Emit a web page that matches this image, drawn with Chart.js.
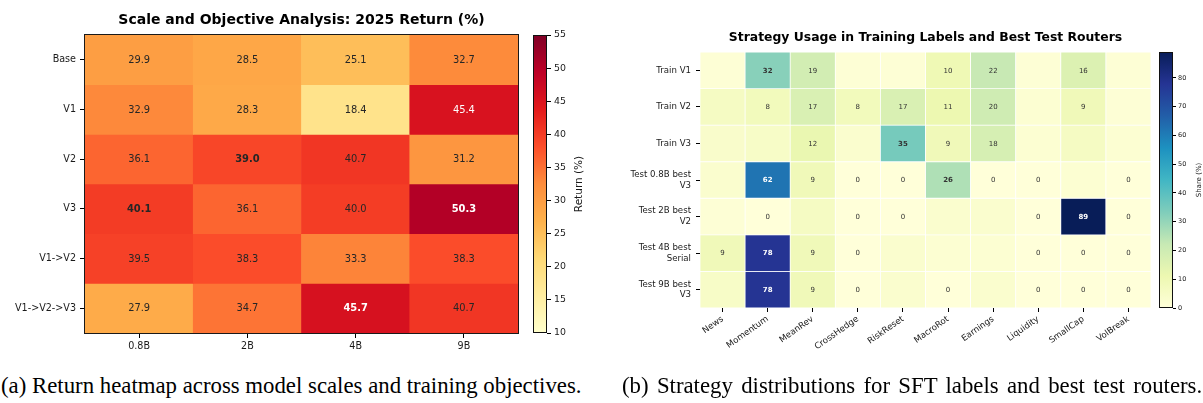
<!DOCTYPE html>
<html>
<head>
<meta charset="utf-8">
<script src="https://cdn.jsdelivr.net/npm/chart.js@4.4.1/dist/chart.umd.min.js"></script>
<style>
html,body{margin:0;padding:0;background:#fff;}
body{width:1203px;height:403px;position:relative;overflow:hidden;}
canvas{position:absolute;}
.cap{position:absolute;font-family:"Liberation Serif","Times New Roman",serif;font-size:22.8px;color:#000;white-space:nowrap;line-height:1;}
</style>
</head>
<body>
<canvas id="h1" width="600" height="360" style="left:0px;top:0px"></canvas>
<canvas id="c1" width="70" height="360" style="left:533px;top:0px"></canvas>
<canvas id="h2" width="600" height="360" style="left:600px;top:0px"></canvas>
<canvas id="c2" width="44" height="360" style="left:1159px;top:0px"></canvas>
<div class="cap" style="left:1px;top:375px">(a) Return heatmap across model scales and training objectives.</div>
<div class="cap" style="left:622px;top:375px;word-spacing:2.6px">(b) Strategy distributions for SFT labels and best test routers.</div>
<script>
// ---------- Data: left panel (2025 return, %) ----------
const scaleLabels = ['0.8B', '2B', '4B', '9B'];
const objectiveLabels = ['Base', 'V1', 'V2', 'V3', 'V1->V2', 'V1->V2->V3'];
const returnBase   = [29.9, 28.5, 25.1, 32.7];
const returnV1     = [32.9, 28.3, 18.4, 45.4];
const returnV2     = [36.1, 39.0, 40.7, 31.2];
const returnV3     = [40.1, 36.1, 40.0, 50.3];
const returnV1V2   = [39.5, 38.3, 33.3, 38.3];
const returnV1V2V3 = [27.9, 34.7, 45.7, 40.7];
const returnMin = 10, returnMax = 55, returnStep = 5;

// ---------- Data: right panel (strategy share, %) ----------
const strategyLabels = ['News', 'Momentum', 'MeanRev', 'CrossHedge', 'RiskReset', 'MacroRot', 'Earnings', 'Liquidity', 'SmallCap', 'VolBreak'];
const routerLabels = ['Train V1', 'Train V2', 'Train V3', 'Test 0.8B best\nV3', 'Test 2B best\nV2', 'Test 4B best\nSerial', 'Test 9B best\nV3'];
const shareTrainV1  = [1, 32, 19, 1, 1, 10, 22, 1, 16, 1];
const shareTrainV2  = [6, 8, 17, 8, 17, 11, 20, 2, 9, 1];
const shareTrainV3  = [4, 5, 12, 3, 35, 9, 18, 2, 6, 2];
const shareTest08B  = [3, 62, 9, 0, 0, 26, 0, 0, 2, 0];
const shareTest2B   = [1, 0, 6, 0, 0, 3, 3, 0, 89, 0];
const shareTest4B   = [9, 78, 9, 0, 3, 2, 2, 0, 0, 0];
const shareTest9B   = [5, 78, 9, 0, 3, 0, 3, 0, 0, 0];
const shareStep = 10;

// ---------- Colormaps ----------
const YlOrRd = ['#ffffcc','#ffeda0','#fed976','#feb24c','#fd8d3c','#fc4e2a','#e31a1c','#bd0026','#800026'];
const YlGnBu = ['#ffffd9','#edf8b1','#c7e9b4','#7fcdbb','#41b6c4','#1d91c0','#225ea8','#253494','#081d58'];
const FONT = '"DejaVu Sans", Verdana, sans-serif';

function hexRgb(h) { return [1,3,5].map(k => parseInt(h.substr(k,2),16)); }
function cmapColor(stops, t) {
  t = Math.max(0, Math.min(1, t));
  const n = stops.length - 1;
  const p = t * n;
  const k = Math.min(Math.floor(p), n - 1);
  const f = p - k;
  const a = hexRgb(stops[k]), b = hexRgb(stops[k + 1]);
  return 'rgb(' + [0,1,2].map(c => Math.round(a[c] + (b[c] - a[c]) * f)).join(',') + ')';
}

function makeHeatmap(id, cfg) {
  const {rows, cols, matrix, cmap, vmin, vmax} = cfg;
  const datasets = rows.map((r, i) => ({
    label: r,
    data: cols.map((c, j) => ({x: c, y: 1, v: matrix[i][j]})),
    backgroundColor: matrix[i].map(v => cmapColor(cmap, (v - vmin) / (vmax - vmin))),
    borderColor: '#ffffff',
    borderWidth: cfg.cellBorder,
    borderSkipped: false,
    barPercentage: 1,
    categoryPercentage: 1,
    stack: 'cells'
  }));
  const annot = {
    id: 'annot_' + id,
    afterDatasetsDraw(chart) {
      const ctx = chart.ctx;
      chart.data.datasets.forEach((ds, i) => {
        chart.getDatasetMeta(i).data.forEach((el, j) => {
          const st = cfg.annotate(ds.data[j].v, i, j);
          if (!st) return;
          const p = el.getProps(['x', 'y', 'base'], true);
          ctx.save();
          ctx.font = (st.bold ? 'bold ' : '') + cfg.annotSize + 'px ' + FONT;
          ctx.fillStyle = st.color;
          ctx.textAlign = 'center';
          ctx.textBaseline = 'middle';
          ctx.fillText(st.text, p.x, (p.y + p.base) / 2 + 0.5);
          ctx.restore();
        });
      });
    },
    afterDraw(chart) {
      const ctx = chart.ctx, ca = chart.chartArea;
      ctx.save();
      ctx.font = 'bold ' + cfg.titleSize + 'px ' + FONT;
      ctx.fillStyle = '#000';
      ctx.textAlign = 'center';
      ctx.textBaseline = 'middle';
      ctx.fillText(cfg.title, (ca.left + ca.right) / 2, cfg.titleY);
      if (cfg.frame) {
        ctx.strokeStyle = '#1a1a1a';
        ctx.lineWidth = 1;
        ctx.strokeRect(ca.left - 0.5, ca.top - 0.5, ca.right - ca.left + 1, ca.bottom - ca.top + 1);
      }
      ctx.restore();
    }
  };
  return new Chart(document.getElementById(id), {
    type: 'bar',
    data: {labels: cols, datasets},
    options: {
      responsive: false, animation: false, events: [],
      layout: {padding: {left: 0, right: cfg.padRight, top: cfg.padTop, bottom: 0}},
      plugins: {legend: {display: false}, tooltip: {enabled: false}, title: {display: false}},
      scales: {
        x: {
          type: 'category', stacked: true, offset: true,
          grid: {display: true, offset: false, drawOnChartArea: false, drawTicks: true, tickLength: cfg.tickLen, tickColor: '#000', tickWidth: 1},
          border: {display: false},
          ticks: {autoSkip: false, maxRotation: cfg.xRot, minRotation: cfg.xRot, padding: cfg.xPad, color: '#1a1a1a', font: {family: FONT, size: cfg.tickSize}},
          afterFit: s => { s.height = cfg.xHeight; }
        },
        y: {
          type: 'linear', stacked: true, min: 0, max: rows.length, reverse: true,
          grid: {display: true, drawOnChartArea: false, drawTicks: true, tickLength: cfg.tickLen, tickColor: '#000', tickWidth: 1},
          border: {display: false},
          afterBuildTicks: s => { s.ticks = rows.map((_, i) => ({value: i + 0.5})); },
          ticks: {autoSkip: false, padding: cfg.yPad, color: '#1a1a1a', font: {family: FONT, size: cfg.tickSize, lineHeight: 1.25},
                  callback: (v, i) => rows[i].split('\n')},
          afterFit: s => { s.width = cfg.yWidth; }
        }
      }
    },
    plugins: [annot]
  });
}

function makeColorbar(id, cfg) {
  const lab = {
    id: 'cb_' + id,
    afterDraw(chart) {
      const ctx = chart.ctx, ca = chart.chartArea;
      ctx.save();
      ctx.strokeStyle = '#111';
      ctx.lineWidth = 1;
      ctx.strokeRect(ca.left + 0.5, ca.top + 0.5, ca.right - ca.left - 1, ca.bottom - ca.top - 1);
      ctx.translate(cfg.labelX, (ca.top + ca.bottom) / 2);
      ctx.rotate(-Math.PI / 2);
      ctx.font = cfg.labelSize + 'px ' + FONT;
      ctx.fillStyle = '#1a1a1a';
      ctx.textAlign = 'center';
      ctx.textBaseline = 'middle';
      ctx.fillText(cfg.label, 0, 0);
      ctx.restore();
    }
  };
  return new Chart(document.getElementById(id), {
    type: 'bar',
    data: {labels: ['cb'], datasets: [{
      data: [[cfg.vmin, cfg.vmax]],
      backgroundColor: c => {
        const a = c.chart.chartArea;
        if (!a) return cfg.cmap[0];
        const g = c.chart.ctx.createLinearGradient(0, a.bottom, 0, a.top);
        cfg.cmap.forEach((s, k) => g.addColorStop(k / (cfg.cmap.length - 1), s));
        return g;
      },
      borderWidth: 0, barPercentage: 1, categoryPercentage: 1
    }]},
    options: {
      responsive: false, animation: false, events: [],
      layout: {padding: {left: 0, right: 0, top: cfg.top, bottom: cfg.bottom}},
      plugins: {legend: {display: false}, tooltip: {enabled: false}},
      scales: {
        x: {display: false},
        y: {
          position: 'right', min: cfg.vmin, max: cfg.vmax,
          ticks: {stepSize: cfg.step, includeBounds: false, padding: cfg.pad, color: '#1a1a1a', font: {family: FONT, size: cfg.tickSize}},
          grid: {display: true, drawOnChartArea: false, drawTicks: true, tickLength: cfg.tickLen, tickColor: '#000'},
          border: {display: false},
          afterFit: s => { s.width = cfg.axisWidth; }
        }
      }
    },
    plugins: [lab]
  });
}

// ---------- Left panel ----------
const returnMatrix = [returnBase, returnV1, returnV2, returnV3, returnV1V2, returnV1V2V3];
const colMax = scaleLabels.map((_, j) => Math.max(...returnMatrix.map(r => r[j])));
makeHeatmap('h1', {
  rows: objectiveLabels, cols: scaleLabels, matrix: returnMatrix, cmap: YlOrRd,
  vmin: returnMin, vmax: returnMax, cellBorder: 0,
  padRight: 82, padTop: 35, xHeight: 27, yWidth: 85,
  tickLen: 5, xPad: 3, yPad: 4, xRot: 0, tickSize: 9.6, annotSize: 9.9,
  title: 'Scale and Objective Analysis: 2025 Return (%)', titleSize: 14, titleY: 20, frame: true,
  annotate: (v, i, j) => ({text: v.toFixed(1), bold: v === colMax[j], color: v >= 44 ? '#ffffff' : '#262626'})
});
makeColorbar('c1', {
  vmin: returnMin, vmax: returnMax, step: returnStep, cmap: YlOrRd,
  top: 35, bottom: 27, axisWidth: 56, tickLen: 4, pad: 3, tickSize: 9.4,
  label: 'Return (%)', labelSize: 10.5, labelX: 46
});

// ---------- Right panel ----------
const shareMatrix = [shareTrainV1, shareTrainV2, shareTrainV3, shareTest08B, shareTest2B, shareTest4B, shareTest9B];
const shareMax = Math.max(...shareMatrix.flat());
makeHeatmap('h2', {
  rows: routerLabels, cols: strategyLabels, matrix: shareMatrix, cmap: YlGnBu,
  vmin: 0, vmax: shareMax, cellBorder: 0.75,
  padRight: 49, padTop: 52, xHeight: 52, yWidth: 100,
  tickLen: 4, xPad: 2, yPad: 5, xRot: 35, tickSize: 8.6, annotSize: 7,
  title: 'Strategy Usage in Training Labels and Best Test Routers', titleSize: 12.4, titleY: 38, frame: false,
  annotate: (v) => (v === 0 || v >= 8) ? {text: String(v), bold: v >= 25, color: v >= 55 ? '#ffffff' : '#333333'} : null
});
makeColorbar('c2', {
  vmin: 0, vmax: shareMax, step: shareStep, cmap: YlGnBu,
  top: 52, bottom: 52, axisWidth: 30, tickLen: 3, pad: 2, tickSize: 6.5,
  label: 'Share (%)', labelSize: 7, labelX: 40
});
</script>
</body>
</html>
